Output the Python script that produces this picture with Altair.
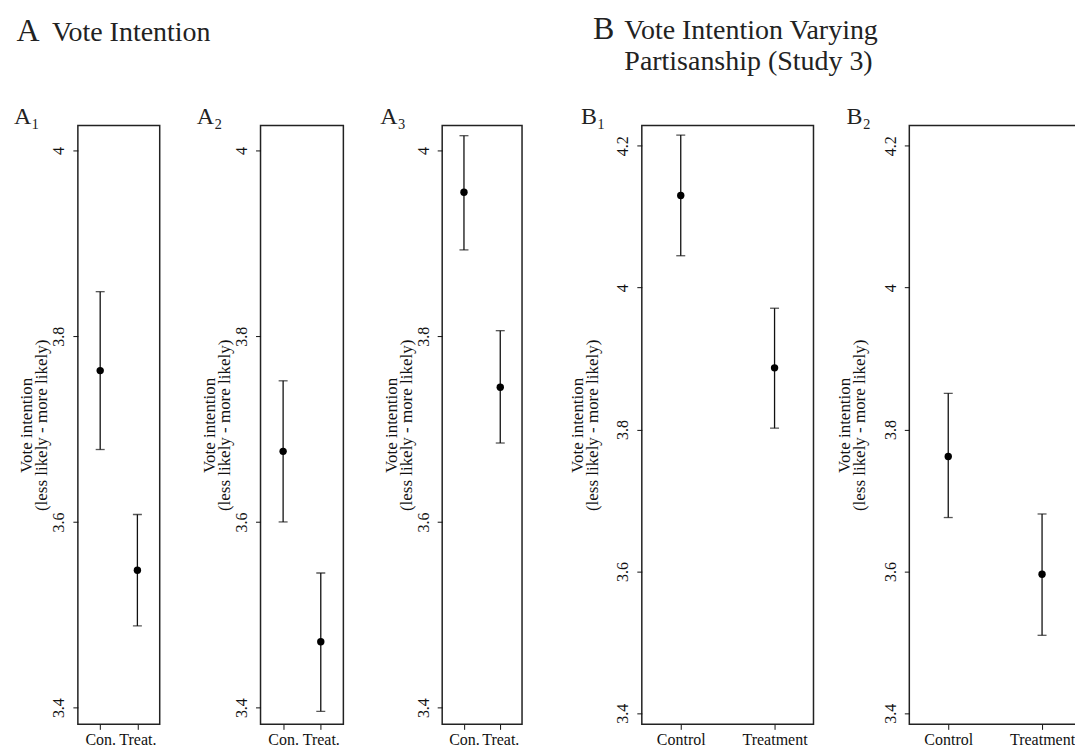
import altair as alt
import pandas as pd

FONT = "Liberation Serif"
INK = "#111111"

# ---------------- data ----------------
a_labels = ["A₁", "A₂", "A₃"]
a_conditions = ["Con.", "Treat."]
a_control_mean = [3.763, 3.676, 3.955]
a_control_low = [3.678, 3.600, 3.893]
a_control_high = [3.848, 3.752, 4.016]
a_treat_mean = [3.548, 3.471, 3.745]
a_treat_low = [3.488, 3.396, 3.685]
a_treat_high = [3.608, 3.545, 3.806]
a_ticks = [3.4, 3.6, 3.8, 4.0]
a_domain = [3.382, 4.027]

b_labels = ["B₁", "B₂"]
b_conditions = ["Control", "Treatment"]
b_control_mean = [4.130, 3.762]
b_control_low = [4.045, 3.676]
b_control_high = [4.215, 3.851]
b_treat_mean = [3.887, 3.596]
b_treat_low = [3.802, 3.510]
b_treat_high = [3.971, 3.681]
b_ticks = [3.4, 3.6, 3.8, 4.0, 4.2]
b_domain = [3.3845, 4.2286]

y_title = ["Vote intention", "(less likely - more likely)"]

PLOT_H = 600


def panel(label, label_dx, conds, mean, low, high, domain, ticks, width, pad,
          title_pad):
    df = pd.DataFrame({"cond": conds, "mean": mean, "low": low, "high": high})
    base = alt.Chart(df)
    xaxis = alt.Axis(title=None, labelAngle=0, labelFont=FONT, labelFontSize=16,
                     labelColor=INK, tickSize=5, tickColor=INK, tickWidth=1,
                     labelPadding=2, domain=False, grid=False)
    x = alt.X("cond:N", sort=conds,
              scale=alt.Scale(type="point", padding=pad), axis=xaxis)
    yscale = alt.Scale(domain=domain, nice=False, zero=False)
    yaxis = alt.Axis(title=y_title, values=ticks, format="~g", grid=False,
                     domain=False, labelAngle=270, labelAlign="center",
                     labelBaseline="bottom", labelFont=FONT, labelFontSize=16,
                     labelColor=INK, labelPadding=6, labelOverlap=False,
                     tickSize=5, tickColor=INK, tickWidth=1,
                     titleFont=FONT, titleFontSize=17, titleFontWeight="normal",
                     titleColor=INK, titleLineHeight=15, titleAngle=270,
                     titleAlign="center", titleBaseline="bottom",
                     titlePadding=title_pad)
    rule = base.mark_rule(color=INK, strokeWidth=1.3).encode(
        x=x, y=alt.Y("low:Q", scale=yscale, axis=yaxis), y2="high:Q")
    cap_lo = base.mark_tick(color=INK, size=9, thickness=1.3).encode(
        x=x, y=alt.Y("low:Q", scale=yscale, axis=yaxis))
    cap_hi = base.mark_tick(color=INK, size=9, thickness=1.3).encode(
        x=x, y=alt.Y("high:Q", scale=yscale, axis=yaxis))
    pts = base.mark_point(filled=True, shape="circle", size=55, color="#000",
                          opacity=1).encode(
        x=x, y=alt.Y("mean:Q", scale=yscale, axis=yaxis))
    tag = alt.Chart(alt.Data(values=[{}])).mark_text(
        text=label, font=FONT, fontSize=24, align="left",
        baseline="alphabetic", color="#222222").encode(
        x=alt.value(label_dx), y=alt.value(-1))
    return alt.layer(rule, cap_lo, cap_hi, pts, tag).properties(
        width=width, height=PLOT_H)


a_widths = [82, 83, 80]
a_label_dx = [-64, -64, -62]
a_panels = []
for i in range(3):
    a_panels.append(panel(a_labels[i], a_label_dx[i], a_conditions,
                          [a_control_mean[i], a_treat_mean[i]],
                          [a_control_low[i], a_treat_low[i]],
                          [a_control_high[i], a_treat_high[i]],
                          a_domain, a_ticks, a_widths[i], 0.6, 0))

b_widths = [172, 172]
b_label_dx = [-61, -63]
b_panels = []
for i in range(2):
    b_panels.append(panel(b_labels[i], b_label_dx[i], b_conditions,
                          [b_control_mean[i], b_treat_mean[i]],
                          [b_control_low[i], b_treat_low[i]],
                          [b_control_high[i], b_treat_high[i]],
                          b_domain, b_ticks, b_widths[i], 0.415, 13.5))


def htext(txt, x, y, size):
    return alt.Chart(alt.Data(values=[{}])).mark_text(
        text=txt, font=FONT, fontSize=size, align="left",
        baseline="alphabetic", color="#222222").encode(
        x=alt.value(x), y=alt.value(y))


header = alt.layer(
    htext("A", -61.5, 31, 32),
    htext("Vote Intention", -26, 31, 28),
    htext("B", 516, 29, 32),
    htext("Vote Intention Varying", 547.5, 29, 28),
    htext("Partisanship (Study 3)", 547.5, 60, 28),
).properties(width=900, height=94,
             view=alt.ViewBackground(stroke="transparent"))

group_a = alt.hconcat(*a_panels, spacing=35)
group_b = alt.hconcat(*b_panels, spacing=20)
row = alt.hconcat(group_a, group_b, spacing=44)

chart = alt.vconcat(header, row, spacing=0).properties(
    padding={"left": 5, "top": 0, "right": -7, "bottom": -2},
    background="white",
).configure_view(stroke="#222222", strokeWidth=1.5)

chart.save("out.html", embed_options={"renderer": "svg", "actions": False})
